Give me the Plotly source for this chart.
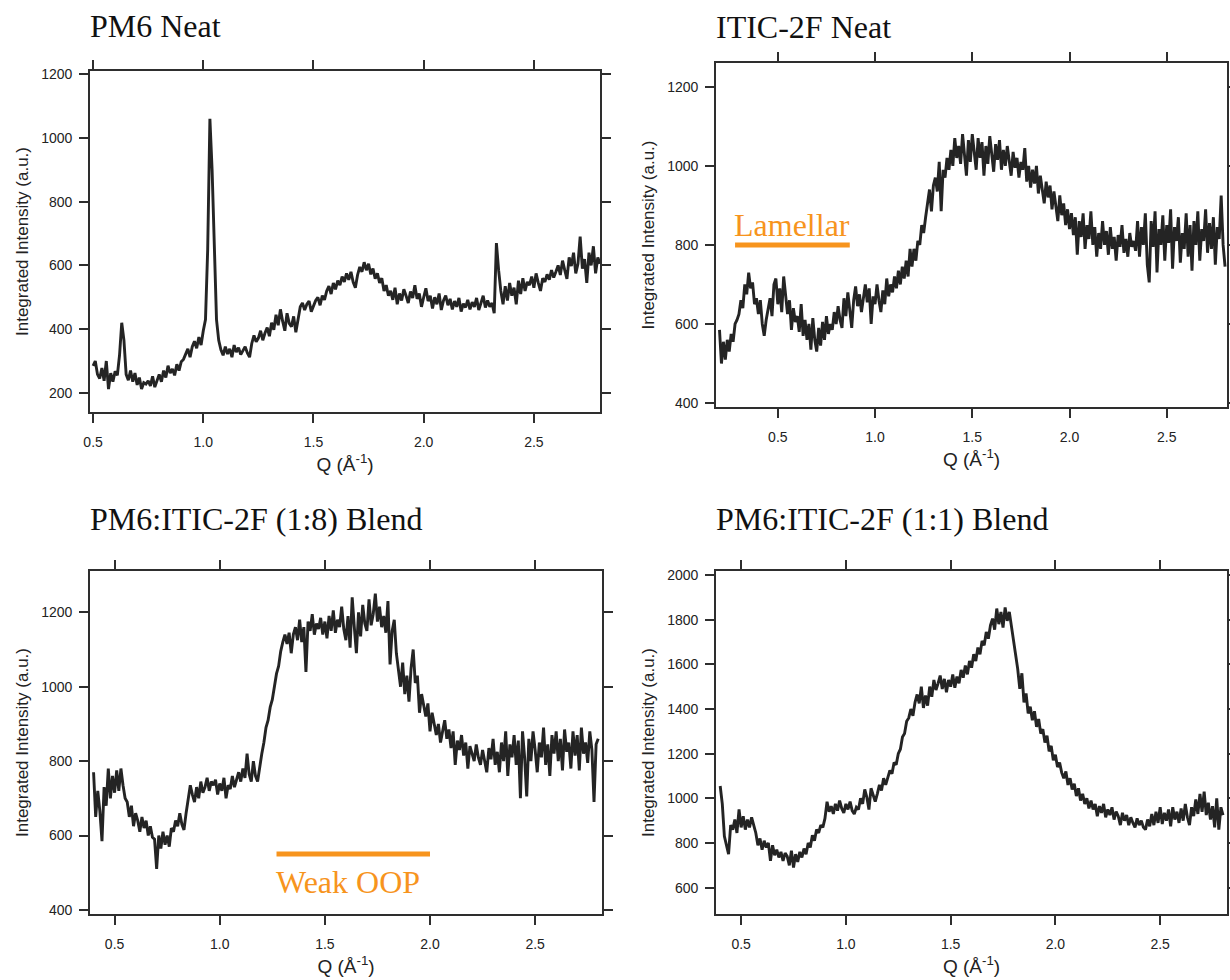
import numpy as np
import plotly.graph_objects as go

# ---------------------------------------------------------------------------
# Integrated GIWAXS line cuts, sampled every 0.01 A^-1
# ---------------------------------------------------------------------------
Q_STEP = 0.01

# PM6 neat film, Q = 0.50 ... 2.80
pm6_q0 = 0.50
pm6_intensity = [
    285, 300, 258, 245, 278, 238, 300, 212, 262, 235,
    268, 255, 318, 420, 365, 258, 240, 270, 235, 262,
    225, 248, 212, 232, 228, 238, 222, 252, 218, 240,
    258, 235, 270, 248, 285, 262, 275, 255, 290, 270,
    298, 305, 320, 338, 312, 345, 362, 340, 375, 350,
    395, 430, 650, 1060, 900, 630, 430, 365, 335, 318,
    345, 322, 338, 312, 350, 328, 342, 320, 335, 345,
    325, 312, 355, 380, 360, 372, 395, 365, 388, 405,
    378, 420, 398, 445, 412, 462, 425, 395, 450, 418,
    408, 440, 390, 425, 470, 482, 460, 478, 488, 455,
    472, 490, 500, 475, 505, 492, 520, 535, 510, 545,
    525, 552, 538, 565, 548, 575, 555, 580, 548, 530,
    570, 595, 580, 610, 585, 605, 572, 590, 558, 575,
    545, 560, 520, 538, 505, 520, 492, 530, 478, 512,
    490, 525, 505, 482, 518, 498, 538, 495, 512, 470,
    500, 528, 488, 505, 465, 500, 478, 512, 460, 490,
    505, 475, 495, 462, 488, 470, 498, 455, 480, 468,
    492, 462, 485, 470, 498, 460, 482, 505, 468, 490,
    470, 482, 450, 670, 585, 520, 478, 535, 490, 545,
    505, 530, 478, 552, 510, 560, 520, 548, 538, 565,
    530, 575, 545, 520, 560, 548, 572, 555, 585, 562,
    580, 600, 570, 615, 585, 558, 625, 598, 640, 575,
    605, 690, 590, 620, 545, 640, 600, 660, 575, 625,
    605,
]

# ITIC-2F neat film, Q = 0.20 ... 2.80
itic_q0 = 0.20
itic_intensity = [
    585, 500, 555, 510, 560, 530, 575, 555, 600, 610,
    625, 660, 640, 700, 675, 730, 690, 705, 650, 665,
    625, 660, 600, 570, 610, 640, 665, 620, 700, 715,
    650, 690, 630, 720, 665, 625, 660, 585, 640, 605,
    620, 580, 650, 570, 610, 560, 600, 535, 615, 560,
    530, 590, 545, 605, 560, 620, 575, 600, 585, 630,
    600, 645, 610, 590, 665, 620, 680, 640, 590, 660,
    695, 645, 675, 630, 665, 700, 655, 690, 600, 670,
    650, 700, 660, 630, 685, 650, 715, 670, 700, 680,
    720, 690, 735, 700, 745, 715, 760, 720, 790, 745,
    790, 760, 810, 800, 850, 830, 870, 910, 940, 885,
    950, 970, 935, 1010, 885, 990, 970, 1020, 990, 1040,
    1000, 1070, 1020, 1050, 1005, 1080, 1030, 975, 1065, 1010,
    1080, 1035, 990, 1070, 1020, 1060, 975, 1050, 1005, 1075,
    1030, 985, 1055, 1015, 1065, 990, 1040, 1000, 1050, 1010,
    975, 1035, 995, 1020, 970, 1010, 990, 1045, 960, 1000,
    945, 990, 955, 1000, 930, 975, 940, 905, 960, 920,
    950, 890, 935, 900, 860, 925, 875, 905, 850, 890,
    840, 880, 825, 870, 775, 860, 820, 880, 790, 850,
    815, 885, 800, 845, 770, 830, 790, 860, 800, 835,
    775, 845, 790, 820, 760, 825, 795, 850, 780, 815,
    770, 830, 795, 810, 785, 860, 770, 845, 800, 880,
    750, 705, 860, 795, 885, 730, 840, 800, 875, 760,
    850, 805, 890, 740, 845, 810, 870, 755, 830, 790,
    880, 770, 850, 735, 860, 800, 885, 760, 840, 810,
    890, 780, 855, 790, 870, 750, 845, 815, 925, 800,
    745,
]

# PM6:ITIC-2F (1:8) blend, Q = 0.40 ... 2.80
blend18_q0 = 0.40
blend18_intensity = [
    770, 650, 720, 665, 585, 730, 680, 780, 700, 760,
    715, 775, 720, 780, 735, 700, 690, 650, 680, 625,
    660, 640, 610, 650, 620, 640, 600, 625, 595, 590,
    510, 600, 565, 610, 575, 600, 570, 620, 610, 640,
    625, 660, 630, 615, 660, 700, 735, 710, 690, 730,
    700, 745, 715, 730, 755, 720, 745, 735, 750, 710,
    740, 720, 755, 700, 735, 725, 760, 730, 750, 770,
    745, 780, 755, 820, 765, 745, 800, 760, 745, 790,
    820, 850, 890, 910, 945, 965, 1000, 1035, 1055, 1095,
    1120, 1140, 1115, 1145, 1090, 1140, 1160, 1125, 1180, 1120,
    1160, 1040, 1175, 1150, 1195, 1140, 1170, 1155, 1185, 1140,
    1175, 1130, 1190, 1150, 1205, 1145, 1180, 1160, 1215, 1155,
    1125, 1190, 1105, 1240, 1160, 1090, 1200, 1135, 1220, 1170,
    1150, 1235, 1165, 1195, 1250, 1175, 1215, 1160, 1190, 1145,
    1230, 1060, 1150, 1180, 1090, 1040, 1000, 1065, 980, 1030,
    960, 1050, 1100, 1010, 1030, 930, 980, 950, 920, 955,
    880, 930, 895, 870, 900, 850, 880, 910, 860, 885,
    835, 880, 790, 855, 830, 870, 815, 850, 780, 840,
    820, 800, 845, 810, 790, 830, 800, 770, 835, 805,
    860, 790, 825, 770, 850, 800, 880, 760, 845, 810,
    870, 790, 855, 700, 880, 810, 705, 860, 800, 880,
    830, 770, 850, 810, 890, 790, 845, 760, 870, 820,
    880, 800, 860, 775, 885, 825, 850, 780, 880, 815,
    870, 775, 890, 820, 850, 795, 880, 830, 690, 845,
    860,
]

# PM6:ITIC-2F (1:1) blend, Q = 0.40 ... 2.80
blend11_q0 = 0.40
blend11_intensity = [
    1055, 975, 830, 790, 750, 880, 860, 905, 845, 950,
    870, 920, 860, 905, 870, 915, 880, 845, 790, 820,
    770, 810, 780, 800, 720, 790, 745, 770, 735, 760,
    720, 755, 740, 700, 765, 690, 750, 715, 760, 735,
    775, 750, 800, 780, 835, 810, 860, 845, 880, 870,
    910, 985, 940, 965, 930, 975, 945, 990, 955, 935,
    975, 950, 985, 945, 930, 960, 950, 1000, 975, 1040,
    1005, 950, 1045, 1010, 985, 1020, 1060, 1035, 1090, 1060,
    1095, 1125, 1110, 1160, 1150, 1200, 1220, 1275, 1290, 1345,
    1360, 1400, 1370, 1430, 1465, 1425, 1500, 1405, 1460, 1415,
    1500, 1455, 1530, 1485, 1515, 1550, 1490, 1535, 1475, 1530,
    1500, 1555, 1495, 1545, 1515, 1575, 1540, 1595, 1555, 1615,
    1585, 1645, 1615, 1675, 1645, 1705, 1685, 1745, 1715, 1775,
    1805, 1755, 1850, 1780, 1835, 1765, 1855, 1795, 1835, 1775,
    1720, 1660, 1580, 1490, 1560, 1430, 1470, 1380, 1410, 1350,
    1390, 1320, 1355, 1290, 1310, 1250, 1280, 1210, 1235, 1170,
    1195, 1140, 1160, 1115, 1090, 1120, 1060, 1090, 1040, 1065,
    1010, 1045, 990, 1020, 975, 1000, 955, 990, 950, 975,
    920, 965, 935, 975, 915, 950, 925, 960, 905, 940,
    920, 880, 935, 900, 925, 880, 915, 890, 870, 910,
    880, 900, 870, 860, 905, 875, 930, 880, 940, 890,
    960, 885, 935, 900, 950, 875, 960, 905, 940, 890,
    955, 900, 975, 915, 880, 960, 920, 995, 930, 1020,
    940, 1030, 925, 980, 905, 965, 870, 1000, 860, 960,
    925,
]

# Highlighted Q windows
lamellar_q = [0.28, 0.87]
lamellar_level = 800
lamellar_label_level = 851
oop_q = [1.27, 2.00]
oop_level = 550
oop_label_level = 475

panel_titles = [
    "PM6 Neat",
    "ITIC-2F Neat",
    "PM6:ITIC-2F (1:8) Blend",
    "PM6:ITIC-2F (1:1) Blend",
]

# ---------------------------------------------------------------------------
W, H = 1230, 980
SANS = "Liberation Sans"
SERIF = "Liberation Serif"
INK = "#222222"
FRAME = "#2e2e2e"
ORANGE = "#F7941D"


def q_grid(q0, n):
    return np.round(q0 + Q_STEP * np.arange(n), 2)


def px_dom(a, b, size, flip=False):
    if flip:
        return [1 - b / size, 1 - a / size]
    return [a / size, b / size]


# panel frames (pixel boxes): x0, x1, y0, y1, and title centre line
frames = [
    (90, 600, 71, 412),
    (716, 1227, 63, 407),
    (90, 602, 571, 914),
    (716, 1227, 571, 914),
]
title_centres = [26, 27, 519, 519]
x_ranges = [[0.486, 2.80], [0.182, 2.81], [0.383, 2.818], [0.38, 2.819]]
y_ranges = [[140, 1210], [390, 1260], [389, 1311], [482, 2018]]
y_ticks = [
    [200, 400, 600, 800, 1000, 1200],
    [400, 600, 800, 1000, 1200],
    [400, 600, 800, 1000, 1200],
    [600, 800, 1000, 1200, 1400, 1600, 1800, 2000],
]

series = [
    (pm6_q0, pm6_intensity),
    (itic_q0, itic_intensity),
    (blend18_q0, blend18_intensity),
    (blend11_q0, blend11_intensity),
]

fig = go.Figure()
layout = dict(
    width=W,
    height=H,
    margin=dict(l=0, r=0, t=0, b=0),
    paper_bgcolor="white",
    plot_bgcolor="white",
    showlegend=False,
)

common = dict(
    showline=True,
    mirror="allticks",
    linecolor=FRAME,
    linewidth=1.6,
    ticks="outside",
    ticklen=9,
    tickwidth=1.5,
    tickcolor=FRAME,
    showgrid=False,
    zeroline=False,
    automargin=False,
    fixedrange=True,
    tickfont=dict(family=SANS, size=14, color=INK),
)

annotations = []
for i, ((x0, x1, y0, y1), (q0, vals)) in enumerate(zip(frames, series)):
    n = i + 1
    xa = "x" if n == 1 else f"x{n}"
    ya = "y" if n == 1 else f"y{n}"
    xkey = "xaxis" if n == 1 else f"xaxis{n}"
    ykey = "yaxis" if n == 1 else f"yaxis{n}"

    fig.add_trace(go.Scatter(
        x=q_grid(q0, len(vals)), y=vals, mode="lines",
        line=dict(color="#242424", width=2.9),
        xaxis=xa, yaxis=ya, hoverinfo="x+y",
    ))

    layout[xkey] = dict(
        common,
        domain=px_dom(x0, x1, W),
        anchor=ya,
        range=x_ranges[i],
        tickvals=[0.5, 1.0, 1.5, 2.0, 2.5],
        tickformat=".1f",
        ticklabelstandoff=7,
        title=dict(text="Q (Å<sup>-1</sup>)",
                   font=dict(family=SANS, size=19, color=INK), standoff=9),
    )
    layout[ykey] = dict(
        common,
        domain=px_dom(y0, y1, H, flip=True),
        anchor=xa,
        range=y_ranges[i],
        tickvals=y_ticks[i],
        ticklabelstandoff=4,
        title=dict(text="Integrated Intensity (a.u.)",
                   font=dict(family=SANS, size=17, color=INK), standoff=8),
    )

    annotations.append(dict(
        text=panel_titles[i], xref="paper", yref="paper",
        x=x0 / W - 0.002, y=1 - title_centres[i] / H,
        xanchor="left", yanchor="middle", showarrow=False,
        font=dict(family=SERIF, size=32, color="#111111"),
    ))

# orange markers for the lamellar and out-of-plane windows
fig.add_trace(go.Scatter(
    x=lamellar_q, y=[lamellar_level] * 2, mode="lines",
    line=dict(color=ORANGE, width=5), xaxis="x2", yaxis="y2", hoverinfo="skip",
))
fig.add_trace(go.Scatter(
    x=oop_q, y=[oop_level] * 2, mode="lines",
    line=dict(color=ORANGE, width=5), xaxis="x3", yaxis="y3", hoverinfo="skip",
))
annotations.append(dict(
    text="Lamellar", xref="x2", yref="y2", x=lamellar_q[0], y=lamellar_label_level,
    xanchor="left", yanchor="middle", showarrow=False, xshift=-3,
    font=dict(family=SERIF, size=32, color=ORANGE),
))
annotations.append(dict(
    text="Weak OOP", xref="x3", yref="y3", x=oop_q[0], y=oop_label_level,
    xanchor="left", yanchor="middle", showarrow=False, xshift=-3,
    font=dict(family=SERIF, size=32, color=ORANGE),
))

layout["annotations"] = annotations
fig.update_layout(**layout)
fig.write_html("out.html")
